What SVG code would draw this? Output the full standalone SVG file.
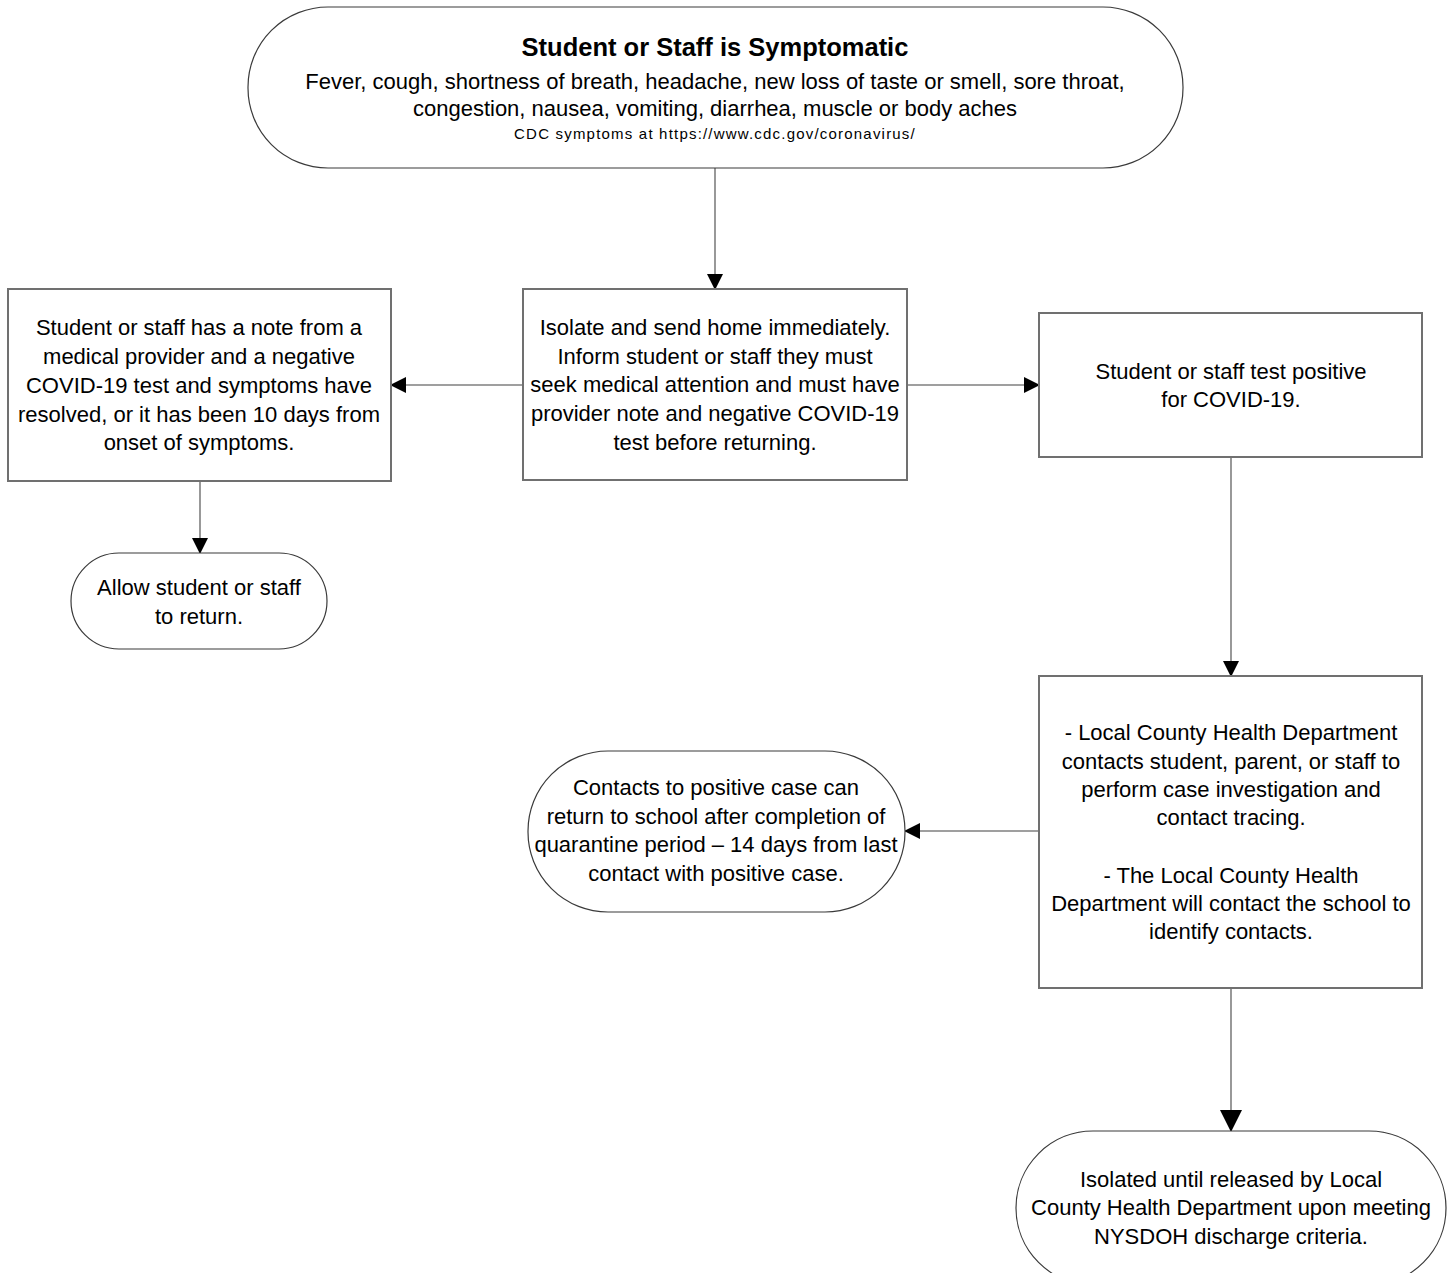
<svg xmlns="http://www.w3.org/2000/svg" width="1453" height="1273" viewBox="0 0 1453 1273">
<defs>
<style>
.bg{fill:#ffffff}
.box{fill:#ffffff;stroke:#707070;stroke-width:2}
.term{fill:#ffffff;stroke:#3a3a3a;stroke-width:1.2}
.t{font-family:"Liberation Sans",Arial,sans-serif;font-size:22px;fill:#000;text-anchor:middle}
.title{font-family:"Liberation Sans",Arial,sans-serif;font-size:25.5px;font-weight:bold;fill:#000;text-anchor:middle}
.small{font-family:"Liberation Sans",Arial,sans-serif;font-size:15px;letter-spacing:1.2px;fill:#000;text-anchor:middle}
.conn{fill:none;stroke:#7f7f7f;stroke-width:1.6}
</style>
<marker id="ah" markerUnits="userSpaceOnUse" markerWidth="16" markerHeight="16" refX="15" refY="8" orient="auto" viewBox="0 0 16 16">
<path d="M0,0 L16,8 L0,16 z" fill="#000"/>
</marker>
<marker id="ahL" markerUnits="userSpaceOnUse" markerWidth="22" markerHeight="22" refX="21" refY="11" orient="auto" viewBox="0 0 22 22">
<path d="M0,0 L22,11 L0,22 z" fill="#000"/>
</marker>
</defs>
<rect class="bg" x="0" y="0" width="1453" height="1273"/>

<g id="connectors">
<line class="conn" x1="715" y1="168" x2="715" y2="289" marker-end="url(#ah)"/>
<line class="conn" x1="523" y1="385" x2="391" y2="385" marker-end="url(#ah)"/>
<line class="conn" x1="907" y1="385" x2="1039" y2="385" marker-end="url(#ah)"/>
<line class="conn" x1="200" y1="481" x2="200" y2="553" marker-end="url(#ah)"/>
<line class="conn" x1="1231" y1="457" x2="1231" y2="676" marker-end="url(#ah)"/>
<line class="conn" x1="1039" y1="831" x2="905" y2="831" marker-end="url(#ah)"/>
<line class="conn" x1="1231" y1="988" x2="1231" y2="1131" marker-end="url(#ahL)"/>
</g>

<g id="start">
<rect class="term" x="248" y="7" width="935" height="161" rx="80" ry="80"/>
<text class="title" x="715" y="56">Student or Staff is Symptomatic</text>
<text class="t" x="715" y="89">Fever, cough, shortness of breath, headache, new loss of taste or smell, sore throat,</text>
<text class="t" x="715" y="116">congestion, nausea, vomiting, diarrhea, muscle or body aches</text>
<text class="small" x="715" y="139">CDC symptoms at https://www.cdc.gov/coronavirus/</text>
</g>

<g id="isolate">
<rect class="box" x="523" y="289" width="384" height="191"/>
<text class="t" x="715" y="335">Isolate and send home immediately.</text>
<text class="t" x="715" y="364">Inform student or staff they must</text>
<text class="t" x="715" y="392">seek medical attention and must have</text>
<text class="t" x="715" y="421">provider note and negative COVID-19</text>
<text class="t" x="715" y="450">test before returning.</text>
</g>

<g id="note">
<rect class="box" x="8" y="289" width="383" height="192"/>
<text class="t" x="199" y="335">Student or staff has a note from a</text>
<text class="t" x="199" y="364">medical provider and a negative</text>
<text class="t" x="199" y="393">COVID-19 test and symptoms have</text>
<text class="t" x="199" y="422">resolved, or it has been 10 days from</text>
<text class="t" x="199" y="450">onset of symptoms.</text>
</g>

<g id="allow">
<rect class="term" x="71" y="553" width="256" height="96" rx="48" ry="48"/>
<text class="t" x="199" y="595">Allow student or staff</text>
<text class="t" x="199" y="624">to return.</text>
</g>

<g id="positive">
<rect class="box" x="1039" y="313" width="383" height="144"/>
<text class="t" x="1231" y="379">Student or staff test positive</text>
<text class="t" x="1231" y="407">for COVID-19.</text>
</g>

<g id="health">
<rect class="box" x="1039" y="676" width="383" height="312"/>
<text class="t" x="1231" y="740">- Local County Health Department</text>
<text class="t" x="1231" y="769">contacts student, parent, or staff to</text>
<text class="t" x="1231" y="797">perform case investigation and</text>
<text class="t" x="1231" y="825">contact tracing.</text>
<text class="t" x="1231" y="883">- The Local County Health</text>
<text class="t" x="1231" y="911">Department will contact the school to</text>
<text class="t" x="1231" y="939">identify contacts.</text>
</g>

<g id="contacts">
<rect class="term" x="528" y="751" width="377" height="161" rx="80" ry="80"/>
<text class="t" x="716" y="795">Contacts to positive case can</text>
<text class="t" x="716" y="824">return to school after completion of</text>
<text class="t" x="716" y="852">quarantine period – 14 days from last</text>
<text class="t" x="716" y="881">contact with positive case.</text>
</g>

<g id="isolated">
<rect class="term" x="1016" y="1131" width="430" height="154" rx="77" ry="77"/>
<text class="t" x="1231" y="1187">Isolated until released by Local</text>
<text class="t" x="1231" y="1215">County Health Department upon meeting</text>
<text class="t" x="1231" y="1244">NYSDOH discharge criteria.</text>
</g>
</svg>
